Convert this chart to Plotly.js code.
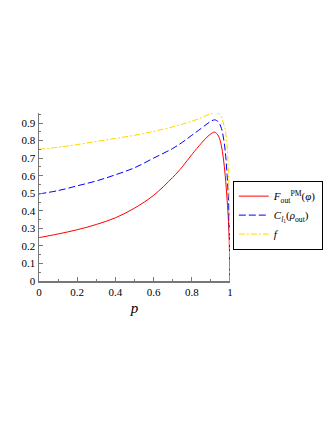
<!DOCTYPE html>
<html>
<head>
<meta charset="utf-8">
<script src="https://cdn.plot.ly/plotly-3.0.1.min.js"></script>
<style>
  html, body { margin: 0; padding: 0; background: #fff; }
  #chart { width: 327px; height: 423px; }
</style>
</head>
<body>
<div id="chart"></div>
<script>
// sampled p values (denser near the drop at p = 1)
const p = [0, 0.1, 0.2, 0.3, 0.4, 0.5, 0.6, 0.7, 0.75, 0.8, 0.85, 0.88, 0.9, 0.92,
           0.94, 0.955, 0.965, 0.975, 0.985, 0.992, 0.997, 1]

const f_out_pm = [0.247, 0.268, 0.292, 0.322, 0.36, 0.415, 0.488, 0.59, 0.65, 0.72, 0.785, 0.82, 0.838, 0.848,
                  0.825, 0.77, 0.70, 0.60, 0.46, 0.34, 0.18, 0]
const c_l1 = [0.496, 0.515, 0.542, 0.57, 0.605, 0.645, 0.70, 0.755, 0.79, 0.83, 0.87, 0.895, 0.91, 0.918,
              0.905, 0.87, 0.82, 0.74, 0.60, 0.46, 0.26, 0]
const f_vals = [0.75, 0.762, 0.777, 0.795, 0.812, 0.83, 0.852, 0.878, 0.893, 0.91, 0.93, 0.945, 0.953, 0.96,
                0.955, 0.935, 0.90, 0.86, 0.76, 0.62, 0.40, 0]

const names = [
    '<i>F</i><sub>out</sub><sup>PM</sup>(<i>φ</i>)',
    '<i>C</i><sub><i>l</i><sub>1</sub></sub>(<i>ρ</i><sub>out</sub>)',
    '<i>f</i>'
]

const serif = '"Liberation Serif", serif'

const traces = [
    { x: p, y: f_out_pm, name: names[0], mode: 'lines', line: { color: '#ff0000', width: 1, shape: 'spline', smoothing: 1 } },
    { x: p, y: c_l1, name: names[1], mode: 'lines', line: { color: '#0000ff', width: 1, dash: '7px,3px', shape: 'spline', smoothing: 1 } },
    { x: p, y: f_vals, name: names[2], mode: 'lines', line: { color: '#ffd700', width: 1, dash: '6px,2px,2px,2px', shape: 'spline', smoothing: 1 } }
]

const axis_common = {
    showgrid: false,
    zeroline: false,
    showline: true,
    linecolor: '#777',
    linewidth: 1.5,
    ticks: 'inside',
    ticklen: 4,
    tickcolor: '#777',
    tickfont: { family: serif, size: 11, color: '#000' },
    automargin: false
}

const layout = {
    width: 327,
    height: 423,
    margin: { l: 39, r: 97, t: 113, b: 142 },
    paper_bgcolor: '#fff',
    plot_bgcolor: '#fff',
    showlegend: true,
    xaxis: Object.assign({}, axis_common, {
        range: [0, 1],
        dtick: 0.2,
        tick0: 0,
        minor: { ticks: 'inside', ticklen: 2, tickcolor: '#777', dtick: 0.1 },
        title: { text: '<i>p</i>', font: { family: serif, size: 15, color: '#000' }, standoff: 6 }
    }),
    yaxis: Object.assign({}, axis_common, {
        range: [0, 0.957],
        dtick: 0.1,
        tick0: 0,
        minor: { ticks: 'inside', ticklen: 2, tickcolor: '#777', dtick: 0.05 }
    }),
    legend: {
        xref: 'container',
        yref: 'container',
        x: 0.712,
        xanchor: 'left',
        y: 0.573,
        yanchor: 'top',
        bordercolor: '#000',
        borderwidth: 1,
        bgcolor: '#fff',
        font: { family: serif, size: 11, color: '#000' },
        itemwidth: 30,
        tracegroupgap: 0
    }
}

Plotly.newPlot('chart', traces, layout, { displayModeBar: false, staticPlot: true })
</script>
</body>
</html>
